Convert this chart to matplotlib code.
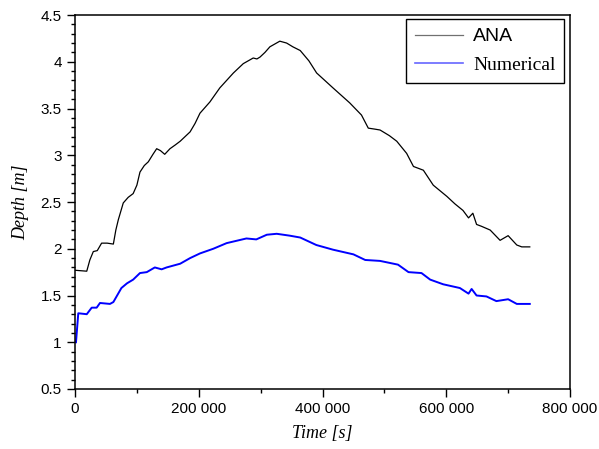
import matplotlib
matplotlib.use("Agg")
import matplotlib.pyplot as plt
from matplotlib.ticker import MultipleLocator, FuncFormatter

# ANA curve
t_ana = [0, 19000, 24000, 29600, 36000, 43000, 52000, 62000, 66000, 70000, 78000,
         86000, 94000, 100000, 105000, 112000, 118500, 126000, 132000, 138000, 145000,
         153500, 162000, 170000, 186000, 194000, 202000, 218000, 234000, 256000, 272000,
         288000, 294000, 299000, 307000, 315000, 331000, 342000, 352000, 364000, 378000,
         390500, 417000, 444000, 463000, 474000, 484000, 493000, 508000, 520000, 536000,
         547000, 563000, 579000, 601000, 614000, 627000, 636000, 643000, 649000, 657000,
         671000, 687000, 700000, 714000, 722000, 735000]
d_ana = [1.77, 1.76, 1.88, 1.97, 1.98, 2.06, 2.06, 2.05, 2.2, 2.31, 2.49,
         2.55, 2.59, 2.68, 2.82, 2.89, 2.93, 3.01, 3.07, 3.05, 3.01,
         3.07, 3.11, 3.15, 3.25, 3.34, 3.45, 3.57, 3.72, 3.88, 3.98,
         4.04, 4.03, 4.05, 4.10, 4.16, 4.22, 4.20, 4.16, 4.12, 4.01,
         3.88, 3.72, 3.56, 3.43, 3.29, 3.28, 3.27, 3.21, 3.15, 3.02,
         2.88, 2.84, 2.68, 2.56, 2.48, 2.41, 2.33, 2.38, 2.26, 2.24,
         2.2, 2.09, 2.14, 2.04, 2.02, 2.02]

# numerical curve
t_num = [1600, 5300, 19000, 27000, 35000, 40400, 56500, 62000, 75000, 84000, 94000,
         105000, 116000, 129000, 140000, 148000, 170000, 186000, 202000, 223500, 245000,
         277000, 293000, 310000, 326000, 347000, 364000, 390000, 417000, 450000, 469000,
         493000, 522000, 539000, 560000, 574000, 595000, 622000, 636000, 641000, 649000,
         665000, 681000, 700000, 714000, 735000]
d_num = [1.0, 1.31, 1.30, 1.37, 1.37, 1.42, 1.41, 1.43, 1.58, 1.63, 1.67,
         1.74, 1.75, 1.80, 1.78, 1.80, 1.84, 1.90, 1.95, 2.00, 2.06,
         2.11, 2.10, 2.15, 2.16, 2.14, 2.12, 2.04, 1.99, 1.94, 1.88,
         1.87, 1.83, 1.75, 1.74, 1.67, 1.62, 1.58, 1.52, 1.57, 1.50,
         1.49, 1.44, 1.46, 1.41, 1.41]

fig = plt.figure(figsize=(5.99, 4.49), dpi=100)
ax = fig.add_axes([75/599, 1-389/449, 495/599, 374/449])

ax.plot(t_ana, d_ana, color='black', lw=0.9, label='ANA')
ax.plot(t_num, d_num, color='#0000ff', lw=1.4, label='Numerical')

ax.set_xlim(0, 800000)
ax.set_ylim(0.5, 4.5)
ax.xaxis.set_major_locator(MultipleLocator(200000))
ax.xaxis.set_minor_locator(MultipleLocator(100000))
ax.yaxis.set_major_locator(MultipleLocator(0.5))
ax.yaxis.set_minor_locator(MultipleLocator(0.1))
ax.xaxis.set_major_formatter(FuncFormatter(lambda v, p: f"{int(v):,}".replace(",", " ")))
ax.yaxis.set_major_formatter(FuncFormatter(lambda v, p: f"{v:g}"))
ax.tick_params(which='major', direction='out', length=6, width=1, labelsize=11)
ax.tick_params(which='minor', direction='out', length=3, width=1)
for lab in ax.get_xticklabels() + ax.get_yticklabels():
    lab.set_family('Liberation Sans')
for s in ax.spines.values():
    s.set_linewidth(1.1)

ax.set_xlabel('Time [s]', family='Liberation Serif', style='italic', fontsize=13, labelpad=6)
ax.set_ylabel('Depth [m]', family='Liberation Serif', style='italic', fontsize=13, labelpad=8)

leg = ax.legend(loc='upper right', bbox_to_anchor=(0.988, 0.989), borderaxespad=0,
                fancybox=False, edgecolor='black', framealpha=1, fontsize=14,
                handlelength=2.5, handletextpad=0.5, borderpad=0.45, labelspacing=0.55)
leg.get_frame().set_linewidth(1)
leg.get_lines()[0].set_color('#707070')
leg.get_lines()[1].set_color('#6666ff')
leg.get_lines()[1].set_linewidth(1.2)
leg.get_texts()[0].set_family('Liberation Sans')
leg.get_texts()[1].set_family('Liberation Serif')

fig.savefig('out.png', dpi=100)
